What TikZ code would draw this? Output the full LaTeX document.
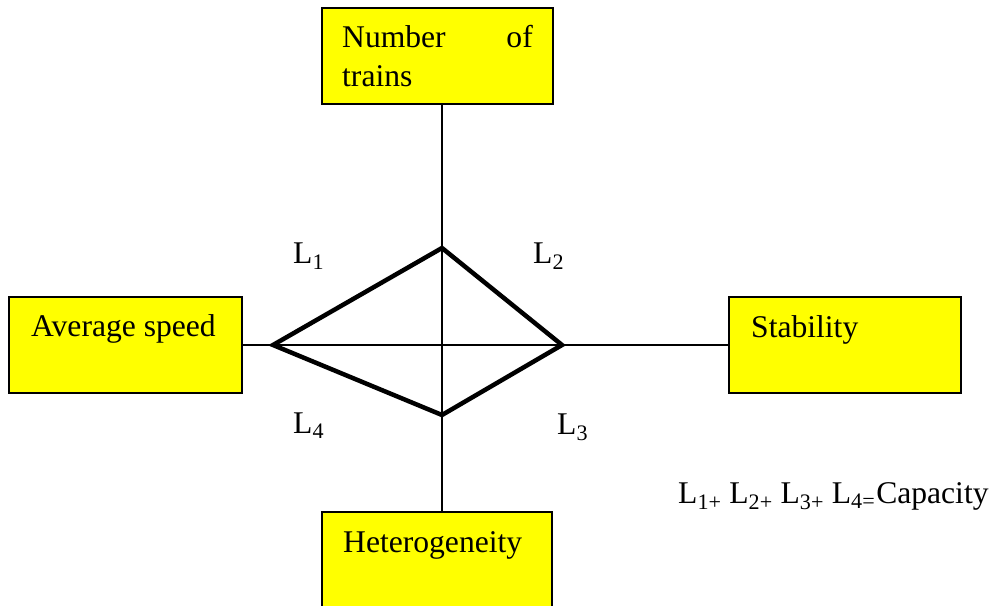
\documentclass[tikz,border=0pt]{standalone}
\usepackage{fontspec}
\setmainfont{Liberation Serif}
\definecolor{boxyellow}{RGB}{255,255,0}
\begin{document}
\begin{tikzpicture}[x=1pt,y=-1pt,
  box/.style={draw=black,line width=2pt,fill=boxyellow,minimum width=#1,minimum height=96pt,inner sep=0pt},
  lbl/.style={inner sep=0pt,anchor=base west,font=\fontsize{31.6}{38}\selectfont},
  thin/.style={line width=1.5pt},
  kite/.style={line width=4.5pt,line join=miter}]
\useasboundingbox (0,0) rectangle (993,605);
% boxes
\node[box=231pt] (tb) at (437.5,56) {};
\node[box=233pt] (lb) at (125.5,345) {};
\node[box=232pt] (rb) at (845,345) {};
\node[box=230pt,minimum height=130pt] (bb) at (437,577) {};
% box texts
\node[lbl] (t1) at (342,47) {Number};
\node[lbl,anchor=base east] (t2) at (533,47) {of};
\node[lbl] (t3) at (342,86) {trains};
\node[lbl] (t4) at (31,336) {Average speed};
\node[lbl] (t5) at (751,337) {Stability};
\node[lbl] (t6) at (343,552) {Heterogeneity};
% axes
\coordinate (c) at (442,345);
\draw[thin] (c |- tb.south) -- (c |- bb.north);
\draw[thin] (lb.east |- c) -- (rb.west |- c);
% kite
\coordinate (kt) at (442,248);
\coordinate (kr) at (562,345);
\coordinate (kb) at (442,415);
\coordinate (kl) at (273,345);
\draw[kite] (kt) -- (kr) -- (kb) -- (kl) -- cycle;
% L labels
\node[lbl] (l1) at (293,263) {L\textsubscript{1}};
\node[lbl] (l2) at (533,263) {L\textsubscript{2}};
\node[lbl] (l4) at (293,433) {L\textsubscript{4}};
\node[lbl] (l3) at (557,434) {L\textsubscript{3}};
\node[lbl] (f) at (678,503) {L\textsubscript{1+} L\textsubscript{2+} L\textsubscript{3+} L\textsubscript{4=}\hspace{1pt}Capacity};
\end{tikzpicture}
\end{document}
